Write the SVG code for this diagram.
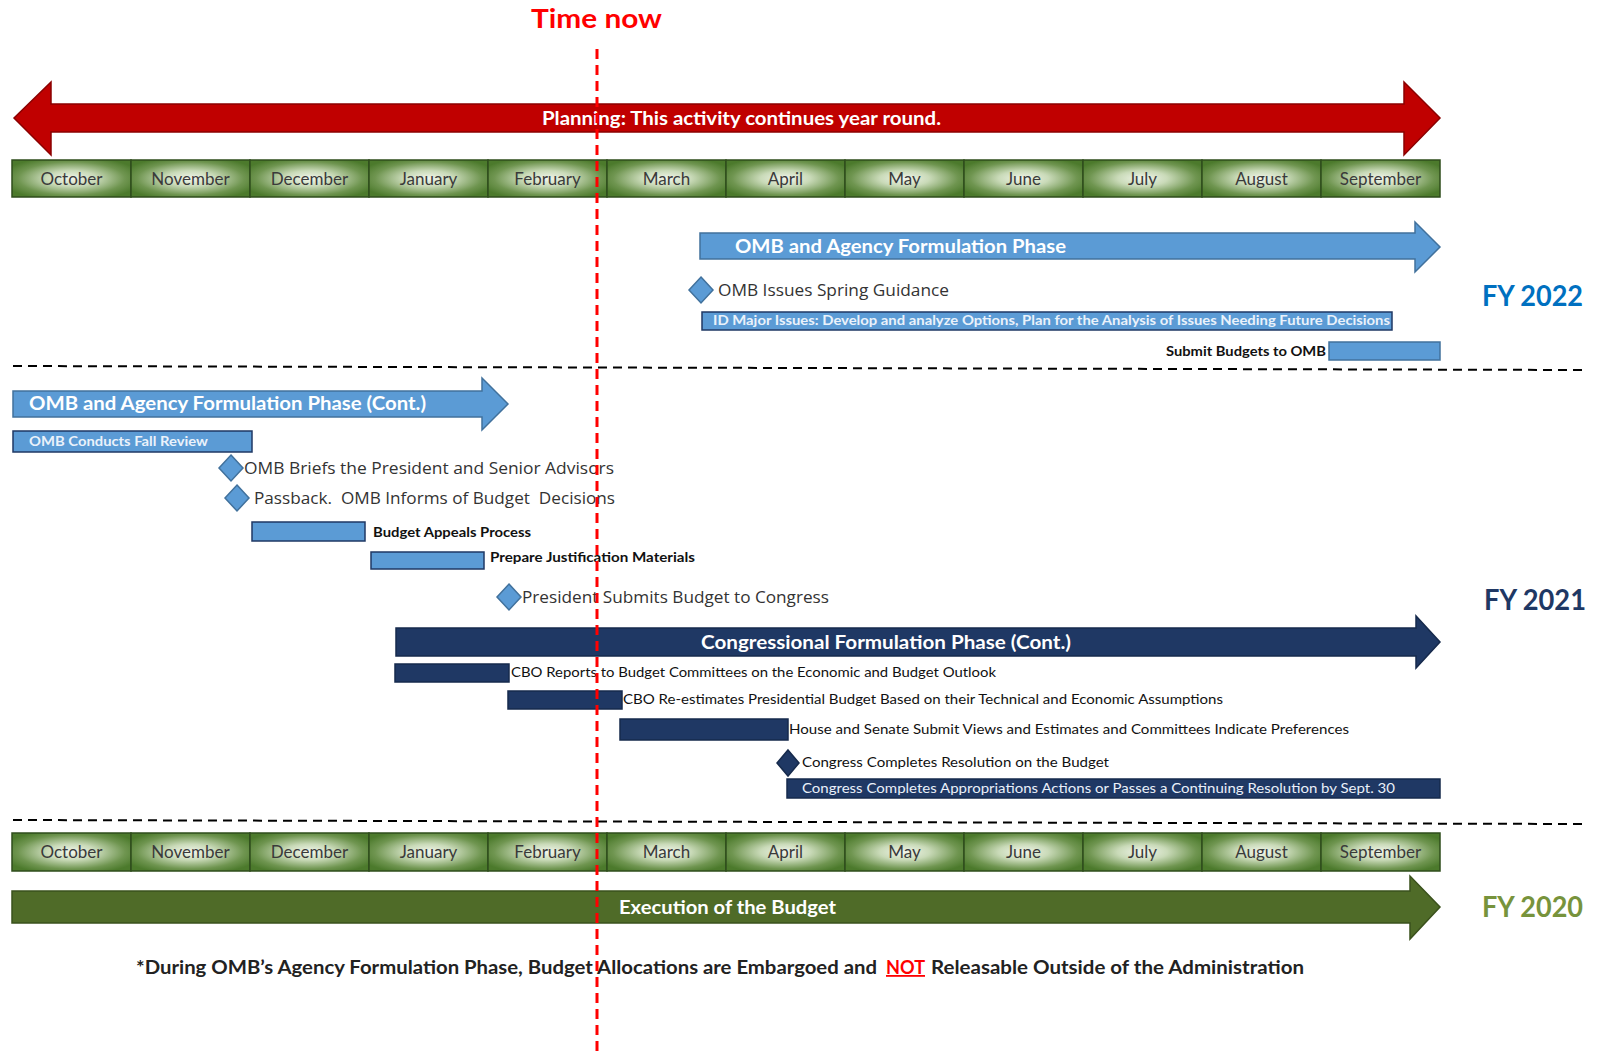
<svg xmlns="http://www.w3.org/2000/svg" width="1604" height="1057" viewBox="0 0 1604 1057">
<defs>
<radialGradient id="cellGrad" cx="50%" cy="50%" r="60%" fx="50%" fy="50%">
<stop offset="0%" stop-color="#f2f6ec"/>
<stop offset="35%" stop-color="#c9dab8"/>
<stop offset="75%" stop-color="#6f9550"/>
<stop offset="100%" stop-color="#4c7a2c"/>
</radialGradient>
<style>
.bg{fill:#ffffff}
.cell{fill:url(#cellGrad);stroke:#2f4d1c;stroke-width:1.5}
.mtext{font-family:Lato,'Liberation Sans',sans-serif;font-size:17px;fill:#3a3a3a;text-anchor:middle}
.lbl{font-family:Lato,'Liberation Sans',sans-serif}
.wbold{font-weight:bold;fill:#ffffff}
.blue{fill:#5b9bd5;stroke:#41719c;stroke-width:1.5}
.bluebar{fill:#5b9bd5;stroke:#1f3864;stroke-width:1.5}
.navy{fill:#1f3864;stroke:#162a4c;stroke-width:1.5}
.red{fill:#c00000;stroke:#8b0000;stroke-width:1.5}
.green{fill:#4f6b28;stroke:#3a511c;stroke-width:1.5}
.ms{font-family:'Open Sans','Liberation Sans',sans-serif;font-size:16px;fill:#333333}
.small{font-family:Lato,'Liberation Sans',sans-serif;font-size:13px;fill:#111111}
.fy{font-family:Lato,'Liberation Sans',sans-serif;font-size:28px;font-weight:bold}
.sep{stroke:#000000;stroke-width:2;stroke-dasharray:9 6;fill:none}
.now{stroke:#ff0000;stroke-width:3;stroke-dasharray:10 6;fill:none}
</style>
</defs>
<rect class="bg" x="0" y="0" width="1604" height="1057"/>

<g id="planning">
<polygon class="red" points="14,118 51,82 51,104 1404,104 1404,82 1440,118 1404,155 1404,132 51,132 51,155"/>
<text class="lbl wbold" x="542" y="125" font-size="18" textLength="399" lengthAdjust="spacingAndGlyphs">Planning: This activity continues year round.</text>
</g>

<g id="months-top">
<rect class="cell" x="12" y="160" width="119" height="37"/>
<rect class="cell" x="131" y="160" width="119" height="37"/>
<rect class="cell" x="250" y="160" width="119" height="37"/>
<rect class="cell" x="369" y="160" width="119" height="37"/>
<rect class="cell" x="488" y="160" width="119" height="37"/>
<rect class="cell" x="607" y="160" width="119" height="37"/>
<rect class="cell" x="726" y="160" width="119" height="37"/>
<rect class="cell" x="845" y="160" width="119" height="37"/>
<rect class="cell" x="964" y="160" width="119" height="37"/>
<rect class="cell" x="1083" y="160" width="119" height="37"/>
<rect class="cell" x="1202" y="160" width="119" height="37"/>
<rect class="cell" x="1321" y="160" width="119" height="37"/>
<text class="mtext" x="71.5" y="185">October</text>
<text class="mtext" x="190.5" y="185">November</text>
<text class="mtext" x="309.5" y="185">December</text>
<text class="mtext" x="428.5" y="185">January</text>
<text class="mtext" x="547.5" y="185">February</text>
<text class="mtext" x="666.5" y="185">March</text>
<text class="mtext" x="785.5" y="185">April</text>
<text class="mtext" x="904.5" y="185">May</text>
<text class="mtext" x="1023.5" y="185">June</text>
<text class="mtext" x="1142.5" y="185">July</text>
<text class="mtext" x="1261.5" y="185">August</text>
<text class="mtext" x="1380.5" y="185">September</text>
</g>

<g id="omb-formulation">
<polygon class="blue" points="700,233 1415,233 1415,222 1440,247 1415,272 1415,259 700,259"/>
<text class="lbl wbold" x="735" y="253" font-size="19" textLength="331" lengthAdjust="spacingAndGlyphs">OMB and Agency Formulation Phase</text>
</g>

<g id="spring-guidance">
<polygon class="blue" points="701,277 713,290 701,303 689,290"/>
<text class="ms" x="718" y="296" textLength="231" lengthAdjust="spacingAndGlyphs">OMB Issues Spring Guidance</text>
</g>

<g id="id-major-issues">
<rect class="bluebar" x="702" y="312" width="690" height="18"/>
<text class="lbl" x="713" y="325" font-size="12.5" font-weight="bold" fill="#eaf2fb" textLength="677" lengthAdjust="spacingAndGlyphs">ID Major Issues: Develop and analyze Options, Plan for the Analysis of Issues Needing Future Decisions</text>
</g>

<g id="submit-budgets">
<rect class="blue" x="1329" y="342" width="111" height="18"/>
<text class="small" x="1166" y="356" font-weight="bold" textLength="160" lengthAdjust="spacingAndGlyphs">Submit Budgets to OMB</text>
</g>

<g id="fy2022"><text class="fy" x="1482" y="306" fill="#0070c0" textLength="101" lengthAdjust="spacingAndGlyphs">FY 2022</text></g>

<g id="omb-formulation-cont">
<polygon class="blue" points="13,391 482,391 482,378 508,404 482,430 482,417 13,417"/>
<text class="lbl wbold" x="29" y="410" font-size="19" textLength="397" lengthAdjust="spacingAndGlyphs">OMB and Agency Formulation Phase (Cont.)</text>
</g>

<g id="fall-review">
<rect class="bluebar" x="13" y="431" width="239" height="21"/>
<text class="lbl" x="29" y="446" font-size="13" font-weight="bold" fill="#eaf2fb" textLength="179" lengthAdjust="spacingAndGlyphs">OMB Conducts Fall Review</text>
</g>

<g id="omb-briefs">
<polygon class="blue" points="231,455 243,468 231,481 219,468"/>
<text class="ms" x="244" y="474" textLength="370" lengthAdjust="spacingAndGlyphs">OMB Briefs the President and Senior Advisors</text>
</g>

<g id="passback">
<polygon class="blue" points="237,485 249,498 237,511 225,498"/>
<text class="ms" x="254" y="504" textLength="361" lengthAdjust="spacingAndGlyphs" xml:space="preserve">Passback.  OMB Informs of Budget  Decisions</text>
</g>

<g id="budget-appeals">
<rect class="bluebar" x="252" y="522" width="113" height="19"/>
<text class="small" x="373" y="537" font-weight="bold" textLength="158" lengthAdjust="spacingAndGlyphs">Budget Appeals Process</text>
</g>

<g id="justification">
<rect class="bluebar" x="371" y="552" width="113" height="17"/>
<text class="small" x="490" y="562" font-weight="bold" textLength="205" lengthAdjust="spacingAndGlyphs">Prepare Justification Materials</text>
</g>

<g id="president-submits">
<polygon class="blue" points="509,584 521,597 509,610 497,597"/>
<text class="ms" x="522" y="603" textLength="307" lengthAdjust="spacingAndGlyphs">President Submits Budget to Congress</text>
</g>

<g id="congressional-phase">
<polygon class="navy" points="396,628 1416,628 1416,616 1440,642 1416,668 1416,656 396,656"/>
<text class="lbl wbold" x="701" y="649" font-size="19" textLength="370" lengthAdjust="spacingAndGlyphs">Congressional Formulation Phase (Cont.)</text>
</g>

<g id="cbo-reports">
<rect class="navy" x="395" y="664" width="114" height="18"/>
<text class="small" x="511" y="677" font-size="13.5" textLength="485" lengthAdjust="spacingAndGlyphs">CBO Reports to Budget Committees on the Economic and Budget Outlook</text>
</g>

<g id="cbo-reestimates">
<rect class="navy" x="508" y="691" width="114" height="18"/>
<text class="small" x="623" y="704" font-size="13.5" textLength="600" lengthAdjust="spacingAndGlyphs">CBO Re-estimates Presidential Budget Based on their Technical and Economic Assumptions</text>
</g>

<g id="views-estimates">
<rect class="navy" x="620" y="719" width="168" height="21"/>
<text class="small" x="789" y="734" font-size="13.5" textLength="560" lengthAdjust="spacingAndGlyphs">House and Senate Submit Views and Estimates and Committees Indicate Preferences</text>
</g>

<g id="budget-resolution">
<polygon class="navy" points="788,750 799,763 788,776 777,763"/>
<text class="small" x="802" y="767" font-size="13.5" textLength="307" lengthAdjust="spacingAndGlyphs">Congress Completes Resolution on the Budget</text>
</g>

<g id="appropriations">
<rect class="navy" x="787" y="779" width="653" height="19"/>
<text class="lbl" x="802" y="793" font-size="13.5" fill="#eaf0fa" textLength="593" lengthAdjust="spacingAndGlyphs">Congress Completes Appropriations Actions or Passes a Continuing Resolution by Sept. 30</text>
</g>

<g id="fy2021"><text class="fy" x="1484" y="610" fill="#1f3864" textLength="102" lengthAdjust="spacingAndGlyphs">FY 2021</text></g>

<g id="months-bottom">
<rect class="cell" x="12" y="833" width="119" height="38"/>
<rect class="cell" x="131" y="833" width="119" height="38"/>
<rect class="cell" x="250" y="833" width="119" height="38"/>
<rect class="cell" x="369" y="833" width="119" height="38"/>
<rect class="cell" x="488" y="833" width="119" height="38"/>
<rect class="cell" x="607" y="833" width="119" height="38"/>
<rect class="cell" x="726" y="833" width="119" height="38"/>
<rect class="cell" x="845" y="833" width="119" height="38"/>
<rect class="cell" x="964" y="833" width="119" height="38"/>
<rect class="cell" x="1083" y="833" width="119" height="38"/>
<rect class="cell" x="1202" y="833" width="119" height="38"/>
<rect class="cell" x="1321" y="833" width="119" height="38"/>
<text class="mtext" x="71.5" y="858">October</text>
<text class="mtext" x="190.5" y="858">November</text>
<text class="mtext" x="309.5" y="858">December</text>
<text class="mtext" x="428.5" y="858">January</text>
<text class="mtext" x="547.5" y="858">February</text>
<text class="mtext" x="666.5" y="858">March</text>
<text class="mtext" x="785.5" y="858">April</text>
<text class="mtext" x="904.5" y="858">May</text>
<text class="mtext" x="1023.5" y="858">June</text>
<text class="mtext" x="1142.5" y="858">July</text>
<text class="mtext" x="1261.5" y="858">August</text>
<text class="mtext" x="1380.5" y="858">September</text>
</g>

<g id="execution">
<polygon class="green" points="12,891 1410,891 1410,876 1440,907 1410,939 1410,923 12,923"/>
<text class="lbl wbold" x="619" y="914" font-size="19" textLength="217" lengthAdjust="spacingAndGlyphs">Execution of the Budget</text>
</g>

<g id="fy2020"><text class="fy" x="1482" y="917" fill="#77933c" textLength="101" lengthAdjust="spacingAndGlyphs">FY 2020</text></g>

<g id="footnote">
<text class="lbl" x="136" y="974" font-size="18" font-weight="bold" fill="#222222" textLength="741" lengthAdjust="spacingAndGlyphs">*During OMB’s Agency Formulation Phase, Budget Allocations are Embargoed and</text>
<text class="lbl" x="886" y="974" font-size="18" font-weight="bold" fill="#ff0000" text-decoration="underline" textLength="39" lengthAdjust="spacingAndGlyphs">NOT</text>
<text class="lbl" x="931" y="974" font-size="18" font-weight="bold" fill="#222222" textLength="373" lengthAdjust="spacingAndGlyphs">Releasable Outside of the Administration</text>
</g>

<g id="time-now-label">
<text class="lbl" x="531" y="28" font-size="26" font-weight="bold" fill="#ff0000" textLength="131" lengthAdjust="spacingAndGlyphs">Time now</text>
</g>

<g id="connectors">
<line class="sep" x1="13" y1="366" x2="1585" y2="370"/>
<line class="sep" x1="13" y1="820" x2="1585" y2="824"/>
<line class="now" x1="597" y1="49" x2="597" y2="1057"/>
</g>
</svg>
